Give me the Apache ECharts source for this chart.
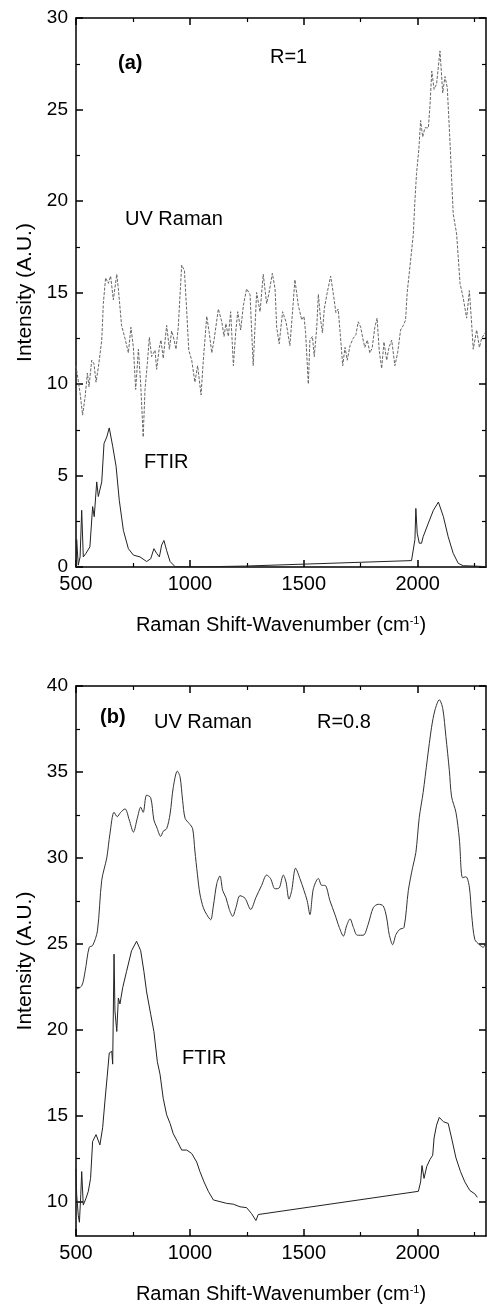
<!DOCTYPE html>
<html>
<head>
    <meta charset="utf-8">
    <title>UV Raman / FTIR</title>
    <script src="https://cdn.jsdelivr.net/npm/echarts@6.0.0/dist/echarts.min.js"></script>
    <style>
        body { margin: 0; background: #fff; }
    </style>
</head>
<body>
    <div id="main" style="width: 487px;height:1309px;"></div>
    <script type="text/javascript">
        // 刻度
        const xMajor = [500, 1000, 1500, 2000]
        const xMinor = [750, 1250, 1750, 2250]
        const yMajorA = [0, 5, 10, 15, 20, 25, 30]
        const yMinorA = [2.5, 7.5, 12.5, 17.5, 22.5, 27.5]
        const yMajorB = [10, 15, 20, 25, 30, 35, 40]
        const yMinorB = [12.5, 17.5, 22.5, 27.5, 32.5, 37.5]

        // (a) R=1  UV Raman 光谱 [波数, 强度]
        const ramanA = [
            [500, 11.0], [506, 11.0], [518, 9.5], [529, 8.3], [540, 9.3], [550, 10.6], [557, 9.85], [569, 11.3],
            [579, 11.1], [588, 10.1], [598, 10.9], [613, 12.4], [620, 14.4], [630, 15.8], [642, 15.5], [652, 15.9],
            [664, 14.6], [679, 16.0], [686, 15.2], [700, 13.2], [715, 12.5], [730, 11.7], [741, 13.1], [752, 12.0],
            [762, 9.7], [774, 11.9], [784, 10.0], [795, 7.1], [803, 9.7], [813, 11.1], [822, 12.55], [832, 11.5],
            [847, 11.85], [854, 10.8], [866, 12.0], [873, 12.4], [883, 11.4], [898, 13.2], [910, 11.9], [920, 12.9],
            [927, 12.6], [939, 11.9], [949, 13.1], [964, 16.5], [976, 16.2], [986, 14.0], [995, 11.85], [1008, 11.3],
            [1022, 10.1], [1034, 11.0], [1049, 9.4], [1059, 11.3], [1074, 13.7], [1085, 12.8], [1096, 11.7], [1106, 12.4],
            [1125, 14.1], [1140, 13.4], [1150, 12.6], [1158, 13.3], [1169, 12.6], [1179, 13.95], [1191, 11.0], [1201, 12.8],
            [1210, 13.95], [1223, 12.95], [1235, 14.3], [1249, 15.2], [1264, 14.9], [1278, 11.0], [1293, 15.0], [1308, 13.95],
            [1322, 16.0], [1337, 14.4], [1347, 14.95], [1362, 16.05], [1374, 15.2], [1381, 13.1], [1392, 12.2], [1407, 13.95],
            [1422, 13.4], [1439, 12.1], [1451, 14.0], [1461, 15.7], [1476, 14.3], [1491, 13.5], [1501, 13.7], [1508, 12.8],
            [1520, 10.0], [1527, 12.4], [1538, 12.6], [1546, 11.5], [1557, 13.1], [1564, 14.9], [1574, 13.5], [1582, 12.8],
            [1590, 14.1], [1603, 15.0], [1618, 15.9], [1630, 14.9], [1641, 13.9], [1651, 14.1], [1661, 12.6], [1671, 11.0],
            [1681, 12.0], [1691, 11.3], [1703, 12.1], [1717, 12.5], [1729, 12.7], [1739, 13.4], [1750, 13.1], [1759, 12.5],
            [1768, 12.0], [1779, 12.4], [1790, 11.7], [1800, 11.95], [1812, 13.1], [1822, 13.6], [1831, 11.85], [1842, 10.85],
            [1852, 12.3], [1864, 11.3], [1874, 12.0], [1886, 12.4], [1900, 11.0], [1912, 11.7], [1925, 12.95], [1937, 13.2],
            [1947, 13.5], [1954, 15.0], [1966, 16.4], [1981, 18.2], [1988, 20.05], [1995, 21.5], [2005, 22.8], [2013, 24.4],
            [2022, 23.5], [2032, 24.0], [2047, 24.0], [2054, 25.2], [2062, 27.1], [2072, 26.1], [2083, 26.4], [2098, 28.2],
            [2110, 25.9], [2120, 26.8], [2130, 26.2], [2142, 23.2], [2156, 19.3], [2171, 18.2], [2186, 15.5], [2200, 14.7],
            [2215, 13.6], [2227, 15.1], [2237, 13.3], [2244, 11.9], [2259, 12.95], [2271, 12.0], [2281, 12.5], [2296, 12.8]
        ]

        // (a) FTIR
        const ftirA = [
            [500, 0], [503, 1.5], [510, 0.1], [518, 0.55], [525, 3.1], [532, 0.55], [544, 0.75], [561, 1.1],
            [573, 3.3], [580, 2.75], [591, 4.65], [598, 3.85], [613, 4.65], [623, 6.75], [635, 7.1], [646, 7.6],
            [661, 6.6], [676, 5.5], [690, 3.65], [708, 2.0], [730, 1.0], [752, 0.65], [781, 0.55], [810, 0.3],
            [828, 0.45], [842, 1.0], [854, 0.75], [866, 0.55], [876, 1.2], [886, 1.45], [898, 0.9], [913, 0.3],
            [935, 0.02], [1000, 0.0], [1100, 0.02], [1240, 0.05], [1973, 0.35], [1988, 1.5], [1992, 3.2], [1998, 1.85],
            [2007, 1.3], [2017, 1.3], [2024, 1.65], [2047, 2.4], [2069, 3.1], [2091, 3.55], [2113, 2.75], [2134, 1.65],
            [2156, 0.75], [2178, 0.2], [2200, 0.07], [2250, 0.05], [2300, 0.02]
        ]

        // (b) R=0.8  UV Raman
        const ramanB = [
            [500, 22.35], [525, 22.55], [540, 23.4], [558, 24.8], [573, 24.9], [594, 25.75], [613, 28.7], [635, 30.0],
            [649, 31.4], [667, 32.65], [681, 32.4], [696, 32.65], [715, 32.85], [734, 32.2], [752, 31.5], [769, 32.3],
            [784, 32.95], [795, 32.65], [810, 33.65], [828, 33.5], [842, 32.2], [854, 31.8], [872, 31.25], [883, 31.55],
            [898, 31.7], [913, 32.55], [927, 34.1], [945, 35.05], [957, 34.7], [968, 33.35], [979, 32.3], [997, 32.0],
            [1012, 31.7], [1022, 30.4], [1033, 29.05], [1044, 27.9], [1059, 27.1], [1074, 26.7], [1091, 26.4], [1103, 27.2],
            [1118, 28.5], [1132, 28.95], [1144, 28.1], [1158, 27.7], [1173, 27.0], [1188, 26.6], [1202, 27.1], [1220, 27.8],
            [1242, 27.65], [1267, 27.0], [1290, 27.7], [1315, 28.4], [1337, 29.0], [1354, 28.8], [1374, 28.2], [1392, 28.25],
            [1410, 29.0], [1422, 28.6], [1435, 27.6], [1447, 28.1], [1464, 29.4], [1483, 28.8], [1501, 28.1], [1515, 27.5],
            [1527, 26.7], [1542, 28.2], [1564, 28.8], [1579, 28.4], [1593, 28.4], [1615, 27.5], [1637, 26.7], [1656, 25.95],
            [1674, 25.45], [1688, 26.05], [1703, 26.45], [1718, 25.95], [1735, 25.5], [1761, 25.5], [1783, 26.15], [1805, 27.1],
            [1827, 27.3], [1849, 27.2], [1864, 26.5], [1875, 25.55], [1890, 24.95], [1905, 25.55], [1922, 25.85], [1940, 25.95],
            [1959, 28.1], [1978, 29.45], [1992, 30.3], [2007, 32.35], [2024, 33.8], [2042, 35.7], [2061, 37.6], [2076, 38.6],
            [2095, 39.2], [2110, 38.7], [2124, 37.05], [2139, 35.1], [2149, 33.55], [2168, 32.65], [2183, 31.1], [2197, 28.85],
            [2212, 28.9], [2227, 28.3], [2237, 26.7], [2251, 25.25], [2271, 24.95], [2288, 24.8], [2300, 25.1]
        ]

        // (b) FTIR
        const ftirB = [
            [500, 11.9], [503, 10.4], [510, 9.2], [515, 8.8], [521, 10.4], [525, 11.75], [532, 9.8], [544, 10.2],
            [554, 10.6], [564, 11.35], [573, 13.5], [588, 13.9], [605, 13.3], [617, 14.3], [627, 15.85], [637, 17.3],
            [646, 18.65], [657, 18.75], [661, 18.0], [667, 24.4], [671, 21.1], [679, 19.9], [686, 21.85], [693, 21.5],
            [705, 22.45], [722, 23.4], [744, 24.6], [766, 25.15], [784, 24.6], [798, 23.4], [810, 22.2], [828, 20.9],
            [842, 19.9], [857, 18.15], [869, 17.4], [883, 16.0], [898, 15.05], [913, 14.55], [927, 13.95], [945, 13.5],
            [964, 13.0], [986, 13.0], [1008, 12.8], [1030, 12.3], [1044, 11.75], [1062, 11.15], [1081, 10.6], [1103, 10.1],
            [1132, 10.0], [1161, 9.9], [1191, 9.85], [1220, 9.7], [1249, 9.65], [1271, 9.3], [1290, 8.9], [1300, 9.25],
            [2003, 10.6], [2013, 11.15], [2019, 12.1], [2028, 11.35], [2040, 12.05], [2054, 12.45], [2066, 12.7], [2072, 13.7],
            [2083, 14.45], [2095, 14.9], [2113, 14.65], [2134, 14.55], [2149, 13.7], [2168, 12.55], [2188, 11.75], [2207, 11.15],
            [2229, 10.65], [2251, 10.45], [2262, 10.25]
        ]

        const FONT = 'Liberation Sans, Arial, Helvetica, sans-serif'
        const black = '#000'

        // 一个面板的四条x轴（上下主刻度 + 上下次刻度）
        function makeX(grid, withName) {
            let base = {
                gridIndex: grid, type: 'value', min: 500, max: 2300,
                splitLine: { show: false }
            }
            return [
                Object.assign({}, base, {
                    position: 'bottom',
                    name: withName ? 'Raman Shift-Wavenumber (cm{sup|-1})' : '',
                    nameLocation: 'middle',
                    nameGap: 48,
                    nameTextStyle: {
                        color: black, fontSize: 20, fontFamily: FONT,
                        rich: { sup: { fontSize: 11, fontFamily: FONT, color: black, verticalAlign: 'top', lineHeight: 20 } }
                    },
                    axisLine: { show: true, onZero: false, lineStyle: { color: black, width: 1.5 } },
                    axisTick: { inside: true, length: 7, customValues: xMajor, lineStyle: { color: black, width: 1.5 } },
                    axisLabel: {
                        customValues: xMajor, margin: 7, color: black, fontSize: 20, fontFamily: FONT,
                        formatter: function (v) { return String(v) }
                    }
                }),
                Object.assign({}, base, {
                    position: 'top',
                    axisLine: { show: true, onZero: false, lineStyle: { color: black, width: 1.5 } },
                    axisTick: { inside: true, length: 7, customValues: xMajor, lineStyle: { color: black, width: 1.5 } },
                    axisLabel: { show: false }
                }),
                Object.assign({}, base, {
                    position: 'bottom',
                    axisLine: { show: false, onZero: false },
                    axisTick: { inside: true, length: 4, customValues: xMinor, lineStyle: { color: black, width: 1.2 } },
                    axisLabel: { show: false }
                }),
                Object.assign({}, base, {
                    position: 'top',
                    axisLine: { show: false, onZero: false },
                    axisTick: { inside: true, length: 4, customValues: xMinor, lineStyle: { color: black, width: 1.2 } },
                    axisLabel: { show: false }
                })
            ]
        }

        // 四条y轴
        function makeY(grid, min, max, major, minor) {
            let base = {
                gridIndex: grid, type: 'value', min: min, max: max,
                splitLine: { show: false }
            }
            return [
                Object.assign({}, base, {
                    position: 'left',
                    name: 'Intensity (A.U.)',
                    nameLocation: 'middle',
                    nameGap: 28,
                    nameTextStyle: { color: black, fontSize: 21, fontFamily: FONT },
                    axisLine: { show: true, onZero: false, lineStyle: { color: black, width: 1.5 } },
                    axisTick: { inside: true, length: 7, customValues: major, lineStyle: { color: black, width: 1.5 } },
                    axisLabel: {
                        customValues: major, margin: 8, color: black, fontSize: 19, fontFamily: FONT,
                        formatter: function (v) { return String(v) }
                    }
                }),
                Object.assign({}, base, {
                    position: 'right',
                    axisLine: { show: true, onZero: false, lineStyle: { color: black, width: 1.5 } },
                    axisTick: { inside: true, length: 7, customValues: major, lineStyle: { color: black, width: 1.5 } },
                    axisLabel: { show: false }
                }),
                Object.assign({}, base, {
                    position: 'left',
                    axisLine: { show: false, onZero: false },
                    axisTick: { inside: true, length: 4, customValues: minor, lineStyle: { color: black, width: 1.2 } },
                    axisLabel: { show: false }
                }),
                Object.assign({}, base, {
                    position: 'right',
                    axisLine: { show: false, onZero: false },
                    axisTick: { inside: true, length: 4, customValues: minor, lineStyle: { color: black, width: 1.2 } },
                    axisLabel: { show: false }
                })
            ]
        }

        function label(text, x, y, bold) {
            return {
                type: 'text', x: x, y: y,
                style: {
                    text: text, fill: black, verticalAlign: 'middle', align: 'left',
                    font: (bold ? 'bold ' : '') + '20px ' + FONT
                }
            }
        }

        let myChart = echarts.init(document.getElementById('main'))

        let option = {
            backgroundColor: '#fff',
            animation: false,
            grid: [
                { left: 76, top: 18, width: 410, height: 549, containLabel: false, outerBoundsMode: 'none' },
                { left: 76, top: 686, width: 410, height: 550, containLabel: false, outerBoundsMode: 'none' }
            ],
            xAxis: makeX(0, true).concat(makeX(1, true)),
            yAxis: makeY(0, 0, 30, yMajorA, yMinorA).concat(makeY(1, 8, 40, yMajorB, yMinorB)),
            series: [
                {
                    name: 'UV Raman (a)', type: 'line', xAxisIndex: 0, yAxisIndex: 0,
                    data: ramanA, showSymbol: false, symbol: 'none',
                    lineStyle: { color: '#666', width: 1, type: [3, 1.5] }
                },
                {
                    name: 'FTIR (a)', type: 'line', xAxisIndex: 0, yAxisIndex: 0,
                    data: ftirA, showSymbol: false, symbol: 'none',
                    lineStyle: { color: '#222', width: 1 }
                },
                {
                    name: 'UV Raman (b)', type: 'line', xAxisIndex: 4, yAxisIndex: 4,
                    data: ramanB, showSymbol: false, symbol: 'none', smooth: 0.3,
                    lineStyle: { color: '#333', width: 1 }
                },
                {
                    name: 'FTIR (b)', type: 'line', xAxisIndex: 4, yAxisIndex: 4,
                    data: ftirB, showSymbol: false, symbol: 'none',
                    lineStyle: { color: '#222', width: 1 }
                }
            ],
            graphic: [
                label('(a)', 118, 63, true),
                label('R=1', 270, 57),
                label('UV Raman', 125, 219),
                label('FTIR', 144, 462),
                label('(b)', 100, 717, true),
                label('UV Raman', 154, 722),
                label('R=0.8', 317, 722),
                label('FTIR', 182, 1058)
            ]
        }

        myChart.setOption(option)
    </script>
</body>
</html>
